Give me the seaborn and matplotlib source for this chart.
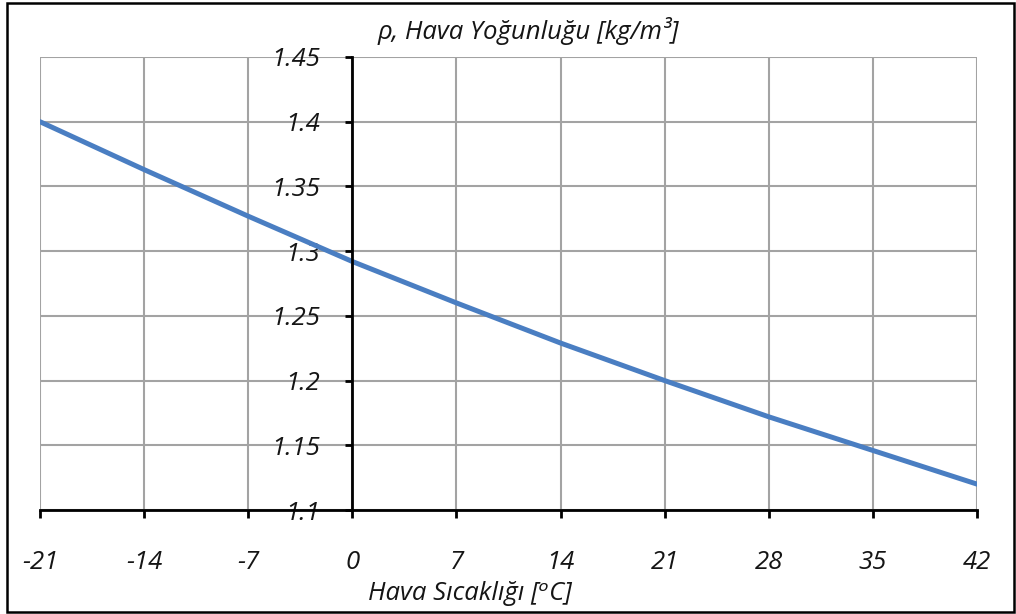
import matplotlib
matplotlib.use("Agg")
import matplotlib.pyplot as plt
import seaborn as sns
import pandas as pd
from matplotlib.patches import Rectangle

temperature = [-21, -14, -7, 0, 7, 14, 21, 28, 35, 42]
density = [1.400, 1.363, 1.327, 1.292, 1.260, 1.229, 1.200, 1.172, 1.146, 1.120]
x_ticks = [-21, -14, -7, 0, 7, 14, 21, 28, 35, 42]
y_ticks = [1.1, 1.15, 1.2, 1.25, 1.3, 1.35, 1.4, 1.45]
y_labels = ["1.1", "1.15", "1.2", "1.25", "1.3", "1.35", "1.4", "1.45"]

df = pd.DataFrame({"T": temperature, "rho": density})

sns.set_style("white")
plt.rcParams["font.family"] = ["Open Sans", "DejaVu Sans"]
plt.rcParams["axes.unicode_minus"] = False

FS = 18.5
TXT = "#151515"

fig = plt.figure(figsize=(10.16, 6.14), dpi=100)
ax = fig.add_axes([40/1016, 1 - 510/614, (977-40)/1016, (510-57)/614])

sns.lineplot(data=df, x="T", y="rho", ax=ax, color="#4a7ec2", linewidth=3.6)

ax.spines["left"].set_position(("data", 0))
ax.spines["top"].set_visible(False)
ax.spines["right"].set_visible(False)
for s in ("left", "bottom"):
    ax.spines[s].set_linewidth(2)
    ax.spines[s].set_color("black")
    ax.spines[s].set_zorder(4)

ax.set_xlim(-21, 42)
ax.set_ylim(1.1, 1.45)
ax.set_xticks(x_ticks)
ax.set_xticklabels([str(t) for t in x_ticks], fontsize=FS, fontstyle="italic", color=TXT)
ax.set_yticks(y_ticks)
ax.set_yticklabels(y_labels, fontsize=FS, fontstyle="italic", color=TXT)

ax.grid(True, color="#a3a3a3", linewidth=1.5)
ax.set_axisbelow(True)
for l in ax.get_lines():
    l.set_zorder(3)

ax.tick_params(axis="y", direction="out", length=5, width=2, color="black", pad=18, left=True)
ax.tick_params(axis="x", direction="out", length=6, width=2, color="black", pad=23, bottom=True)

ax.set_xlabel("")
ax.set_ylabel("")

fig.text(528/1016, 1 - 31/614, "ρ, Hava Yoğunluğu [kg/m³]", ha="center", va="center",
         fontsize=FS, fontstyle="italic", color=TXT)
fig.text(470/1016, 1 - 593/614, "Hava Sıcaklığı [ᵒC]", ha="center", va="center",
         fontsize=FS, fontstyle="italic", color=TXT)

fig.patches.append(Rectangle((7/1016, 2/614), 1007/1016, 609/614, transform=fig.transFigure,
                             fill=False, edgecolor="black", linewidth=1.8))

fig.savefig("out.png", dpi=100)
